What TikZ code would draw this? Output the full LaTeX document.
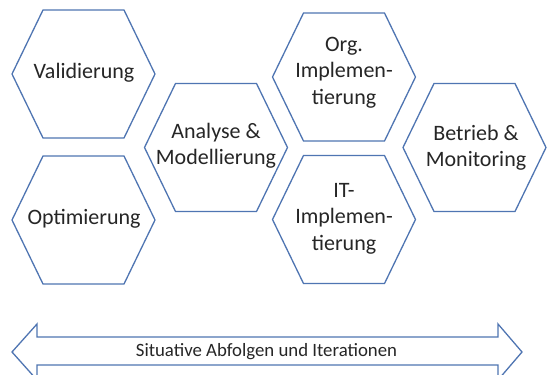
\documentclass[tikz,border=0pt]{standalone}
\usepackage{fontspec}
\setmainfont{Carlito}
\definecolor{hexblue}{RGB}{79,117,178}
\definecolor{txt}{RGB}{38,38,38}
\begin{document}
\begin{tikzpicture}[x=1pt,y=-1pt,
  hexline/.style={draw=hexblue,line width=1.3pt,line join=miter},
  lbl/.style={text=txt,align=center,inner sep=0pt,font=\fontsize{22}{26.5}\selectfont},
  arrlbl/.style={text=txt,inner sep=0pt,font=\fontsize{18.8}{22}\selectfont},
  hexa/.pic={\draw[hexline] (-71.5,0) -- (-40.5,-64) -- (40.5,-64) -- (71.5,0) -- (40.5,64) -- (-40.5,64) -- cycle;}]
\useasboundingbox (0,0) rectangle (547,375);
\clip (0,0) rectangle (547,375);
\fill[white] (0,0) rectangle (547,375);

\node[lbl] (val) at (84,73) {Validierung};
\pic at (83.5,74) {hexa};
\node[lbl] (opt) at (84,219) {Optimierung};
\pic at (83.5,220) {hexa};
\node[lbl] (ana) at (216,146) {Analyse \&\\Modellierung};
\pic at (216,147.5) {hexa};
\node[lbl] (org) at (344,72.5) {Org.\\Implemen-\\tierung};
\pic at (344,77) {hexa};
\node[lbl] (it) at (344,218.5) {IT-\\Implemen-\\tierung};
\pic at (344,219.5) {hexa};
\node[lbl] (bet) at (476,148) {Betrieb \&\\Monitoring};
\pic at (474.5,147.5) {hexa};

\node[arrlbl] (seq) at (266.5,352) {Situative Abfolgen und Iterationen};
\draw[hexline] (12,352) -- (37,324) -- (37,337) -- (498,337) -- (498,324) -- (522,352)
  -- (498,380) -- (498,365) -- (37,365) -- (37,380) -- cycle;
\end{tikzpicture}
\end{document}
